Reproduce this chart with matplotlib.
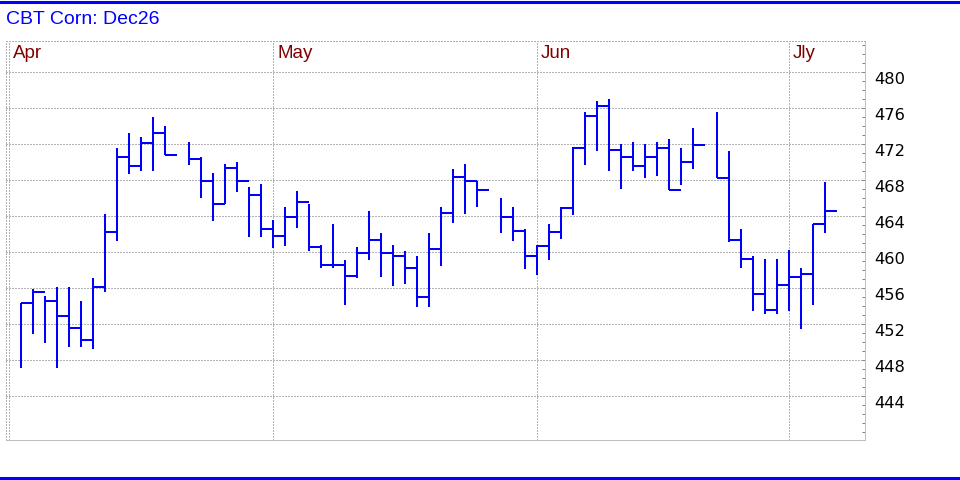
import numpy as np
import matplotlib
matplotlib.use("Agg")
import matplotlib.pyplot as plt
from matplotlib.ticker import MultipleLocator
from matplotlib.lines import Line2D

nan = np.nan

# slot 1 .. 68 (one slot per weekday, NaN = no bar)
highs = [454.4, 455.9, 455.1, 456.1, 456.1, 454.6, 457.1, 464.3, 471.6, 473.3,
         472.8, 475.0, 474.0, nan, 472.3, 470.6, 468.8, 469.8, 470.0, 467.3,
         467.6, 463.6, 465.0, 466.8, 465.4, 460.8, 463.1, 459.1, 460.6, 464.6,
         462.1, 460.8, 460.1, 459.6, 462.1, 465.0, 469.3, 469.8, 467.9, nan,
         466.0, 465.0, 462.6, 460.8, 463.1, 465.0, 471.7, 475.6, 476.8, 477.0,
         472.0, 472.3, 472.0, 472.3, 472.6, 471.6, 473.8, nan, 475.6, 471.3,
         462.6, 459.6, 459.3, 459.3, 460.3, 458.3, 463.1, 467.8]
lows = [447.1, 450.9, 449.9, 447.1, 449.5, 449.5, 449.3, 455.6, 461.3, 468.7,
        469.0, 469.0, 470.8, nan, 469.7, 466.0, 463.5, 465.4, 466.7, 461.7,
        461.7, 460.5, 460.7, 462.7, 460.1, 458.3, 458.3, 454.1, 457.1, 459.1,
        457.3, 456.3, 456.5, 453.9, 453.9, 458.5, 463.3, 464.3, 465.0, nan,
        462.1, 461.3, 458.1, 457.5, 459.1, 461.5, 464.1, 469.7, 471.3, 469.0,
        467.0, 469.0, 468.3, 468.5, 466.9, 467.5, 469.3, nan, 468.3, 461.1,
        458.3, 453.5, 453.1, 453.1, 453.5, 451.5, 454.1, 462.1]
closes = [454.4, 455.6, 454.6, 452.9, 451.6, 450.2, 456.1, 462.2, 470.6, 469.6,
          472.1, 473.3, 470.8, nan, 470.4, 467.9, 465.4, 469.4, 467.9, 466.4,
          462.6, 461.8, 463.9, 465.6, 460.6, 458.6, 458.6, 457.4, 459.9, 461.4,
          459.9, 459.6, 458.2, 455.0, 460.4, 464.4, 468.4, 467.9, 466.9, nan,
          463.9, 462.4, 459.6, 460.7, 462.2, 464.9, 471.6, 475.1, 476.3, 471.4,
          470.6, 469.6, 470.6, 471.6, 466.9, 470.0, 471.9, nan, 468.3, 461.4,
          459.2, 455.4, 453.6, 456.4, 457.2, 457.6, 463.1, 464.6]

months = ["Apr", "May", "Jun", "Jly"]
month_slots = [0, 22, 44, 65]
yticks = list(range(444, 481, 4))

slots = np.arange(1, len(highs) + 1)
highs = np.array(highs)
lows = np.array(lows)
closes = np.array(closes)
ok = ~np.isnan(highs)

fig = plt.figure(figsize=(9.6, 4.8), dpi=100)
ax = fig.add_axes([6 / 960, 1 - 440 / 480, (865 - 6) / 960, (440 - 41) / 480])

blue = "#0000ff"
ax.vlines(slots[ok], lows[ok], highs[ok], color=blue, lw=1.45, capstyle="butt")
ax.hlines(closes[ok], slots[ok], slots[ok] + 1, color=blue, lw=1.45, capstyle="butt")

ax.set_xlim(-0.25, 71.33)
ax.set_ylim(439.14, 483.48)

# grid
dot = (0, (1, 2))
for v in yticks:
    ax.axhline(v, color="#6a6a6a", lw=0.72, ls=dot, zorder=0)
for s in month_slots:
    ax.axvline(s, color="#6a6a6a", lw=0.72, ls=dot, zorder=0)

for s, m in zip(month_slots, months):
    ax.annotate(m, xy=(s, 1), xycoords=("data", "axes fraction"),
                xytext=(4, -4), textcoords="offset pixels", ha="left", va="top",
                color="#800000", fontsize=13.5, family="Liberation Sans")

ax.set_xticks([])
ax.yaxis.tick_right()
ax.set_yticks(yticks)
ax.set_yticklabels([str(v) for v in yticks])
ax.yaxis.set_minor_locator(MultipleLocator(1))
ax.tick_params(axis="y", which="both", direction="in", length=2.2, width=0.72,
               color="#808080", pad=7, labelsize=11.7, left=False, right=True,
               labelleft=False)
for lab in ax.get_yticklabels():
    lab.set_verticalalignment("top")

for side in ["left", "top"]:
    ax.spines[side].set_linestyle(dot)
    ax.spines[side].set_color("#b0b0b0")
    ax.spines[side].set_linewidth(0.72)
for side in ["right", "bottom"]:
    ax.spines[side].set_color("#c0c0c0")
    ax.spines[side].set_linewidth(0.72)

fig.text(6 / 960, 1 - 20 / 480, "CBT Corn: Dec26", ha="left", va="center",
         color=blue, fontsize=14, family="Liberation Sans")

# blue rules top and bottom
fig.add_artist(Line2D([0, 1], [1 - 1.5 / 480, 1 - 1.5 / 480], color=blue, lw=2.2))
fig.add_artist(Line2D([0, 1], [1 - 478 / 480, 1 - 478 / 480], color=blue, lw=2.2))

fig.savefig("out.png", dpi=100)
